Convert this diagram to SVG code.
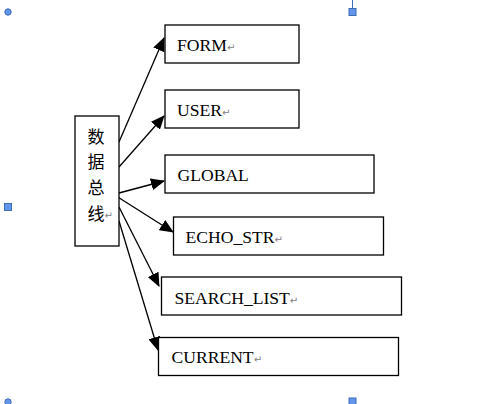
<svg xmlns="http://www.w3.org/2000/svg" width="503" height="404" viewBox="0 0 503 404">
<style>
.box{fill:#fff;stroke:#000;stroke-width:1.3}
.lbl{font-family:"Liberation Serif","Times New Roman",serif;font-size:17.6px;fill:#000}
.cjk{font-family:"Noto Sans CJK SC","Noto Sans",sans-serif;font-size:17px;fill:#000;text-anchor:middle}
.pm{font-family:"DejaVu Sans",sans-serif;font-size:10px;fill:#808080}
.con{stroke:#000;stroke-width:1.3;fill:none;marker-end:url(#ah)}
.hc{fill:#6495ed;stroke:#3d6db5;stroke-width:1}
</style>
<defs>
<marker id="ah" markerUnits="userSpaceOnUse" markerWidth="14" markerHeight="12" viewBox="0 0 14 12" refX="13" refY="6" orient="auto">
<path d="M0,0 L14,6 L0,12 Z" fill="#000"/>
</marker>
</defs>
<g id="handles">
<circle class="hc" cx="8" cy="12" r="3.2"/>
<line x1="352.5" y1="0" x2="352.5" y2="8" stroke="#3d6db5" stroke-width="1"/>
<rect class="hc" x="349" y="8.5" width="7" height="7"/>
<rect class="hc" x="4.5" y="203.5" width="7" height="7"/>
<circle class="hc" cx="8" cy="402" r="3.2"/>
<rect class="hc" x="349" y="398" width="7" height="7"/>
</g>
<g id="connectors">
<line class="con" x1="119" y1="142" x2="164" y2="38"/>
<line class="con" x1="119" y1="167" x2="164" y2="116"/>
<line class="con" x1="119" y1="193" x2="164" y2="181"/>
<line class="con" x1="113" y1="194" x2="173" y2="232"/>
<line class="con" x1="119" y1="207" x2="159" y2="286"/>
<line class="con" x1="119" y1="221" x2="158" y2="350"/>
</g>
<g id="bus">
<rect class="box" x="75" y="116" width="44" height="130"/>
<text class="cjk" x="96" y="142.5">数</text>
<text class="cjk" x="96" y="168">据</text>
<text class="cjk" x="96" y="194">总</text>
<text class="cjk" x="96" y="219.5">线</text>
<text class="pm" x="104.5" y="219">↵</text>
</g>
<g id="form">
<rect class="box" x="165" y="25" width="134" height="38"/>
<text class="lbl" x="177" y="51">FORM<tspan class="pm">↵</tspan></text>
</g>
<g id="user">
<rect class="box" x="165" y="90" width="134" height="38"/>
<text class="lbl" x="177" y="116">USER<tspan class="pm">↵</tspan></text>
</g>
<g id="global">
<rect class="box" x="165" y="155" width="209" height="38"/>
<text class="lbl" x="177.5" y="181">GLOBAL</text>
</g>
<g id="echo_str">
<rect class="box" x="173.5" y="217" width="210" height="38"/>
<text class="lbl" x="185.5" y="242.5">ECHO_STR<tspan class="pm">↵</tspan></text>
</g>
<g id="search_list">
<rect class="box" x="161.5" y="277" width="240" height="38"/>
<text class="lbl" x="174.5" y="303.5">SEARCH_LIST<tspan class="pm">↵</tspan></text>
</g>
<g id="current">
<rect class="box" x="158.5" y="337.5" width="240" height="38"/>
<text class="lbl" x="171.5" y="363">CURRENT<tspan class="pm">↵</tspan></text>
</g>
</svg>
